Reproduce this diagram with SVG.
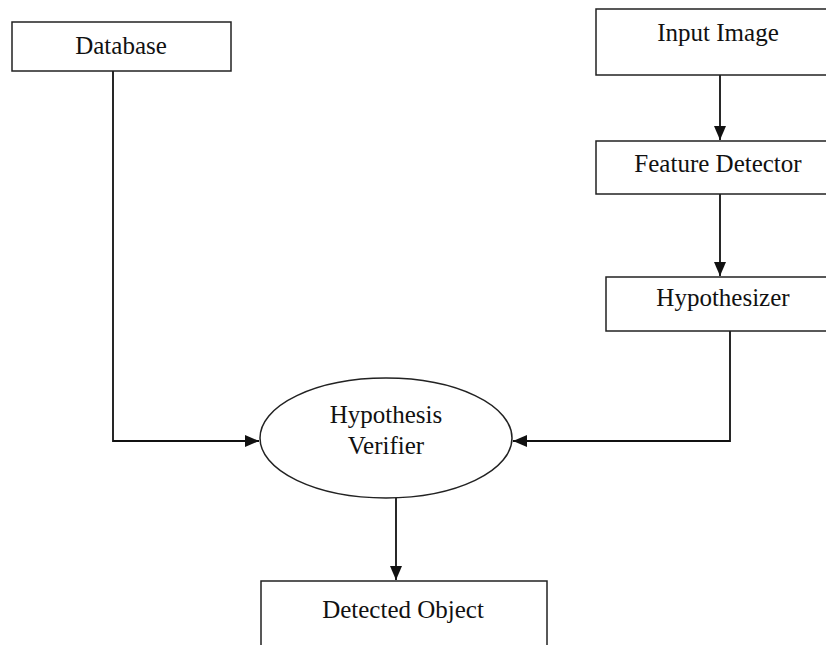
<svg xmlns="http://www.w3.org/2000/svg" width="826" height="645" viewBox="0 0 826 645">
<defs>
<style>
.box{fill:#fff;stroke:#222;stroke-width:1.5}
.t{font-family:"Liberation Serif","Times New Roman",serif;font-size:25px;fill:#111;text-anchor:middle}
.c{fill:none;stroke:#111;stroke-width:1.8}
</style>
<marker id="ah" markerWidth="14" markerHeight="12" refX="14" refY="6" orient="auto" markerUnits="userSpaceOnUse" viewBox="0 0 14 12">
<path d="M0,0 L14,6 L0,12 z" fill="#111"/>
</marker>
</defs>
<rect width="826" height="645" fill="#fff"/>
<g id="connectors">
<path class="c" d="M720,75 V140" marker-end="url(#ah)"/>
<path class="c" d="M720,194 V276" marker-end="url(#ah)"/>
<path class="c" d="M730,331 V441 H513" marker-end="url(#ah)"/>
<path class="c" d="M113,71 V441 H259" marker-end="url(#ah)"/>
<path class="c" d="M396,498 V580" marker-end="url(#ah)"/>
</g>
<g id="database"><rect class="box" x="12" y="22" width="219" height="49"/><text class="t" x="121" y="54">Database</text></g>
<g id="input-image"><rect class="box" x="596" y="9" width="250" height="66"/><text class="t" x="718" y="41">Input Image</text></g>
<g id="feature-detector"><rect class="box" x="596" y="141" width="250" height="53"/><text class="t" x="718" y="172">Feature Detector</text></g>
<g id="hypothesizer"><rect class="box" x="606" y="277" width="240" height="54"/><text class="t" x="723" y="306">Hypothesizer</text></g>
<g id="hypothesis-verifier"><ellipse class="box" cx="386" cy="438" rx="126" ry="60"/><text class="t" x="386" y="423">Hypothesis</text><text class="t" x="386" y="454">Verifier</text></g>
<g id="detected-object"><rect class="box" x="261" y="581" width="286" height="80"/><text class="t" x="403" y="618">Detected Object</text></g>
</svg>
